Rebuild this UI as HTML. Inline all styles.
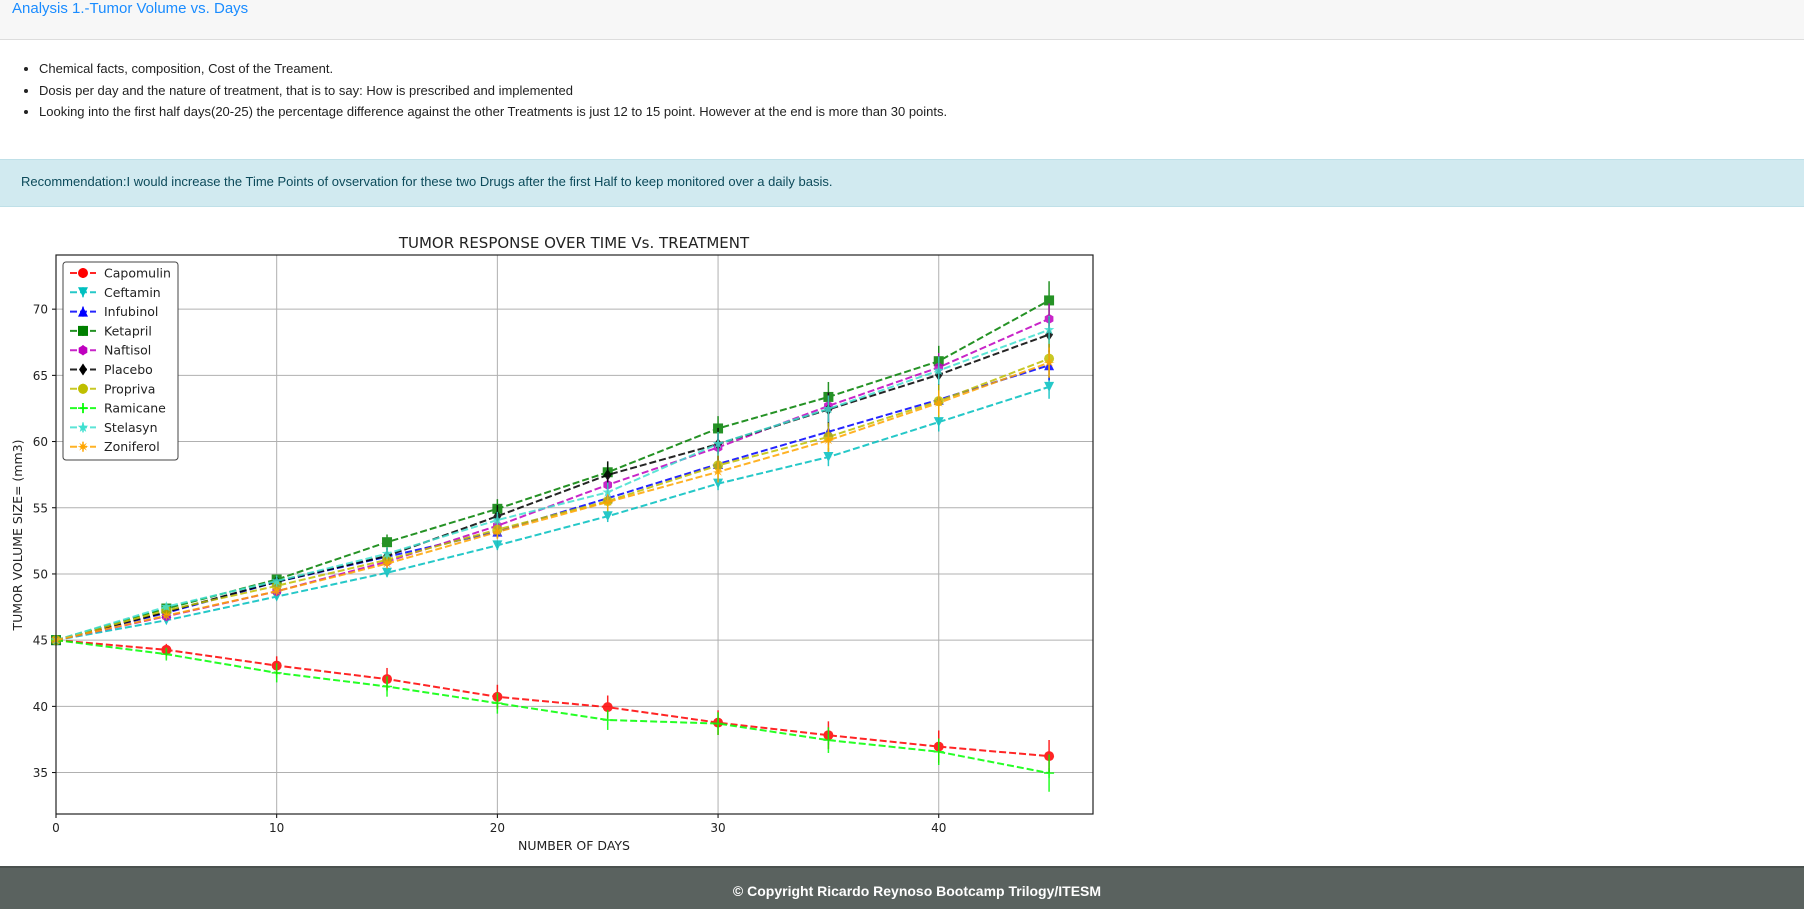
<!DOCTYPE html>
<html><head><meta charset="utf-8">
<style>
html,body{margin:0;padding:0;width:1804px;height:907px;overflow:hidden;background:#fff;font-family:"Liberation Sans",sans-serif;}
#hdr{position:absolute;left:0;top:0;width:1804px;height:39px;background:#f7f7f7;border-bottom:1px solid #ddd;}
#hdr span{position:absolute;left:12px;top:0px;font-size:15px;color:#1a8cff;}
ul{position:absolute;left:0;top:58px;margin:0;padding-left:39px;font-size:13px;color:#222;}
li{height:21.5px;line-height:21px;}
#rec{position:absolute;left:0;top:159px;width:1804px;height:46px;background:#d1eaf0;border-top:1px solid #bfe0e8;border-bottom:1px solid #bfe0e8;}
#rec span{position:absolute;left:21px;top:14px;font-size:13px;color:#0c4a5a;}
#foot{position:absolute;left:0;top:866px;width:1804px;height:41px;background:#5a625f;border-top:2px solid #4a514e;}
#foot span{position:absolute;left:0;width:1834px;text-align:center;top:15px;font-size:14px;font-weight:bold;color:#fff;}
svg{position:absolute;left:0;top:0;}
</style></head><body>
<div id="hdr"><span>Analysis 1.-Tumor Volume vs. Days</span></div>
<ul>
<li>Chemical facts, composition, Cost of the Treament.</li>
<li>Dosis per day and the nature of treatment, that is to say: How is prescribed and implemented</li>
<li>Looking into the first half days(20-25) the percentage difference against the other Treatments is just 12 to 15 point. However at the end is more than 30 points.</li>
</ul>
<div id="rec"><span>Recommendation:I would increase the Time Points of ovservation for these two Drugs after the first Half to keep monitored over a daily basis.</span></div>
<svg id="chart" width="1804" height="907"></svg>
<div id="foot"><span>© Copyright Ricardo Reynoso Bootcamp Trilogy/ITESM</span></div>
<script>
const days=[0,5,10,15,20,25,30,35,40,45];
const names=["Capomulin","Ceftamin","Infubinol","Ketapril","Naftisol","Placebo","Propriva","Ramicane","Stelasyn","Zoniferol"];
const capomulin=[45,44.27,43.08,42.06,40.72,39.94,38.77,37.82,36.96,36.24];
const ceftamin=[45,46.50,48.29,50.09,52.16,54.36,56.82,58.83,61.47,64.13];
const infubinol=[45,47.06,49.40,51.30,53.20,55.72,58.30,60.74,63.16,65.76];
const ketapril=[45,47.39,49.58,52.40,54.92,57.68,60.99,63.37,66.07,70.66];
const naftisol=[45,46.80,48.69,50.93,53.64,56.73,59.56,62.69,65.60,69.27];
const placebo=[45,47.13,49.42,51.36,54.36,57.48,59.81,62.42,65.05,68.08];
const propriva=[45,47.25,49.10,51.07,53.35,55.50,58.20,60.35,63.05,66.26];
const ramicane=[45,43.94,42.53,41.50,40.24,38.97,38.70,37.45,36.57,34.96];
const stelasyn=[45,47.53,49.46,51.53,54.07,56.17,59.83,62.47,65.36,68.44];
const zoniferol=[45,46.85,48.69,50.78,53.17,55.43,57.71,60.09,62.92,65.96];
const capomulinErr=[0,0.45,0.70,0.84,0.91,0.88,0.93,1.05,1.22,1.22];
const ceftaminErr=[0,0.16,0.24,0.33,0.36,0.44,0.49,0.69,0.71,0.90];
const infubinolErr=[0,0.24,0.28,0.36,0.48,0.55,0.63,0.98,1.06,1.14];
const ketaprilErr=[0,0.26,0.36,0.58,0.73,0.76,0.93,1.13,1.16,1.45];
const naftisolErr=[0,0.20,0.32,0.44,0.60,0.81,0.98,1.01,1.09,1.16];
const placeboErr=[0,0.22,0.40,0.61,0.84,1.03,1.22,1.29,1.37,1.35];
const proprivaErr=[0,0.23,0.38,0.47,0.63,0.77,0.89,1.07,1.23,1.42];
const ramicaneErr=[0,0.48,0.72,0.77,0.79,0.75,0.86,0.97,1.00,1.41];
const stelasynErr=[0,0.24,0.43,0.49,0.62,0.74,0.90,1.01,1.06,1.06];
const zoniferolErr=[0,0.19,0.26,0.37,0.53,0.60,0.80,0.88,0.95,1.14];
const xTicks=[0,10,20,30,40];
const yTicks=[35,40,45,50,55,60,65,70];

const series=[capomulin,ceftamin,infubinol,ketapril,naftisol,placebo,propriva,ramicane,stelasyn,zoniferol];
const errs=[capomulinErr,ceftaminErr,infubinolErr,ketaprilErr,naftisolErr,placeboErr,proprivaErr,ramicaneErr,stelasynErr,zoniferolErr];
const colors=["#ff0000","#00bfbf","#0000ff","#008000","#bf00bf","#000000","#bfbf00","#00ff00","#40e0d0","#ffa500"];
const markers=["o","v","^","s","h","d","o","+","*","x"];
const L=56,R=1093,T=255,B=814;
const xMin=0,xMax=46.99,yMin=31.87,yMax=74.09;
const X=v=>L+(v-xMin)/(xMax-xMin)*(R-L);
const Y=v=>B-(v-yMin)/(yMax-yMin)*(B-T);
const svg=document.getElementById('chart');
const NS="http://www.w3.org/2000/svg";
function mk(tag,at,parent){const e=document.createElementNS(NS,tag);for(const k in at)e.setAttribute(k,at[k]);(parent||svg).appendChild(e);return e;}
function marker(g,m,x,y,c){
 const r=5;
 if(m==="o")return mk('circle',{cx:x,cy:y,r:r,fill:c},g);
 if(m==="s")return mk('rect',{x:x-r,y:y-r,width:2*r,height:2*r,fill:c},g);
 if(m==="v")return mk('polygon',{points:`${x-r},${y-r} ${x+r},${y-r} ${x},${y+r}`,fill:c},g);
 if(m==="^")return mk('polygon',{points:`${x-r},${y+r} ${x+r},${y+r} ${x},${y-r}`,fill:c},g);
 if(m==="d")return mk('polygon',{points:`${x},${y-r-1} ${x+r-1},${y} ${x},${y+r+1} ${x-r+1},${y}`,fill:c},g);
 if(m==="h"){let p=[];for(let i=0;i<6;i++){const a=Math.PI/3*i+Math.PI/6;p.push((x+r*Math.cos(a))+","+(y+r*Math.sin(a)));}return mk('polygon',{points:p.join(' '),fill:c},g);}
 if(m==="+"){mk('line',{x1:x-r,y1:y,x2:x+r,y2:y,stroke:c,'stroke-width':1.5},g);return mk('line',{x1:x,y1:y-r,x2:x,y2:y+r,stroke:c,'stroke-width':1.5},g);}
 if(m==="*"){let p=[];for(let i=0;i<10;i++){const a=-Math.PI/2+Math.PI/5*i;const rr=i%2?r*0.45:r+0.5;p.push((x+rr*Math.cos(a))+","+(y+rr*Math.sin(a)));}return mk('polygon',{points:p.join(' '),fill:c},g);}
 if(m==="x"){let p=[];for(let i=0;i<16;i++){const a=-Math.PI/2+Math.PI/8*i;const rr=i%2?r*0.4:r+0.5;p.push((x+rr*Math.cos(a))+","+(y+rr*Math.sin(a)));}return mk('polygon',{points:p.join(' '),fill:c},g);}
}
yTicks.forEach(t=>{
 const gl=mk('line',{x1:L,x2:R,y1:Y(t),y2:Y(t),stroke:'#b0b0b0','stroke-width':1});
 
 
 mk('line',{x1:L-4,x2:L,y1:Y(t),y2:Y(t),stroke:'#000'});
 const tx=mk('text',{x:L-8,y:Y(t)+4.5,'text-anchor':'end','font-size':12,'font-family':'DejaVu Sans, sans-serif',fill:'#222'});
 tx.textContent=t;
 
 
});
xTicks.forEach(t=>{
 const gl=mk('line',{x1:X(t),x2:X(t),y1:T,y2:B,stroke:'#b0b0b0','stroke-width':1});
 
 
 mk('line',{x1:X(t),x2:X(t),y1:B,y2:B+4,stroke:'#000'});
 const tx=mk('text',{x:X(t),y:B+18,'text-anchor':'middle','font-size':12,'font-family':'DejaVu Sans, sans-serif',fill:'#222'});
 tx.textContent=t;
 
 
});
series.forEach((s,i)=>{
 const g=mk('g',{opacity:0.85});
 
 
 mk('polyline',{points:s.map((v,j)=>X(days[j])+','+Y(v)).join(' '),fill:'none',stroke:colors[i],'stroke-width':2,'stroke-dasharray':'7,3'},g);
 s.forEach((v,j)=>{
  mk('line',{x1:X(days[j]),x2:X(days[j]),y1:Y(v-errs[i][j]),y2:Y(v+errs[i][j]),stroke:colors[i],'stroke-width':1.5},g);
  marker(g,markers[i],X(days[j]),Y(v),colors[i]);
 });
});
const fr=mk('rect',{x:L,y:T,width:R-L,height:B-T,fill:'none',stroke:'#222','stroke-width':1.2});


const lg=mk('g',{});


mk('rect',{x:63,y:262,width:115,height:198,rx:3,fill:'#fff',stroke:'#444','stroke-width':1},lg);
names.forEach((n,i)=>{
 const y=273+i*19.3;
 const e=mk('g',{},lg);
 
 
 mk('line',{x1:70,x2:96,y1:y,y2:y,stroke:colors[i],'stroke-width':2,'stroke-dasharray':'7,3',opacity:0.85},e);
 mk('line',{x1:83,x2:83,y1:y-5,y2:y+5,stroke:colors[i],'stroke-width':1.5},e);
 marker(e,markers[i],83,y,colors[i]);
 const t=mk('text',{x:104,y:y+4.5,'font-size':12.5,'font-family':'DejaVu Sans, sans-serif',fill:'#222'},e);
 t.textContent=n;
});
const ti=mk('text',{x:574,y:248,'text-anchor':'middle','font-size':15,'font-family':'DejaVu Sans, sans-serif',fill:'#222'});
ti.textContent='TUMOR RESPONSE OVER TIME Vs. TREATMENT';


const xl=mk('text',{x:574,y:850,'text-anchor':'middle','font-size':12.5,'font-family':'DejaVu Sans, sans-serif',fill:'#222'});
xl.textContent='NUMBER OF DAYS';


const yl=mk('text',{x:0,y:0,'text-anchor':'middle','font-size':12.5,'font-family':'DejaVu Sans, sans-serif',fill:'#222',transform:'translate(22,535) rotate(-90)'});
yl.textContent='TUMOR VOLUME SIZE= (mm3)';


</script>
</body></html>
